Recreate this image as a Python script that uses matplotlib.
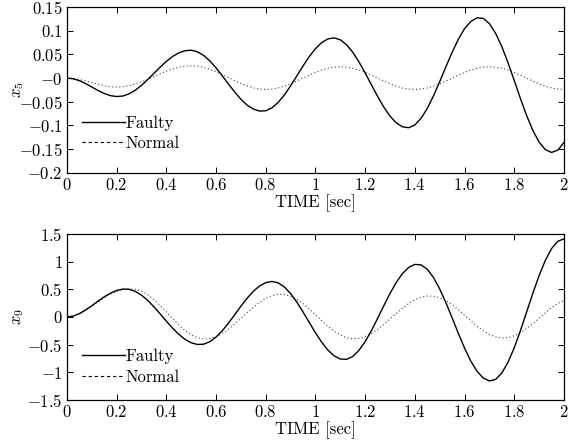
import matplotlib
matplotlib.use("Agg")
import matplotlib.pyplot as plt
import numpy as np
from matplotlib.lines import Line2D
from matplotlib.ticker import FuncFormatter

plt.rcParams['font.family'] = 'serif'
plt.rcParams['font.serif'] = ['cmr10']
plt.rcParams['mathtext.fontset'] = 'cm'
plt.rcParams['axes.unicode_minus'] = False

# time axis, 0.025 s steps (81 samples)
t = np.arange(81) * 0.025

# x5 state
x5_faulty = [0.0, -0.0014, -0.0054, -0.0115, -0.0188, -0.0261, -0.0325, -0.037, -0.0389, -0.0379,
             -0.0333, -0.0256, -0.0153, -0.0031, 0.010, 0.0231, 0.0353, 0.0456, 0.0533, 0.0579,
             0.0589, 0.0556, 0.0479, 0.0363, 0.0216, 0.0049, -0.0125, -0.0294, -0.0446, -0.057,
             -0.0654, -0.0696, -0.069, -0.0627, -0.0512, -0.0355, -0.0163, 0.0045, 0.0256, 0.0453,
             0.0621, 0.075, 0.0828, 0.085, 0.0809, 0.0705, 0.0547, 0.0342, 0.0109, -0.014,
             -0.0386, -0.0612, -0.0803, -0.0945, -0.1029, -0.1048, -0.0989, -0.0849, -0.0639, -0.0374,
             -0.0073, 0.0241, 0.0546, 0.082, 0.1045, 0.1197, 0.1273, 0.1261, 0.115, 0.0945,
             0.0664, 0.0321, -0.0053, -0.0435, -0.0795, -0.1108, -0.1353, -0.151, -0.157, -0.1521,
             -0.136]
x5_normal = [0.0, -0.0007, -0.0028, -0.0059, -0.0095, -0.0131, -0.0162, -0.0183, -0.019,
             -0.0182, -0.016, -0.0124, -0.0078, -0.0023, 0.0035, 0.0093, 0.0148, 0.0194, 0.023, 0.0252, 0.026,
             0.0252, 0.0227, 0.0187, 0.0135, 0.0075, 0.001, -0.0055, -0.0115, -0.0167, -0.0207, -0.0232, -0.024,
             -0.0232, -0.0208, -0.017, -0.012, -0.0062, 0.0, 0.0062, 0.012, 0.017, 0.0208, 0.0232, 0.024,
             0.0232, 0.0208, 0.017, 0.012, 0.0062, 0.0, -0.0062, -0.012, -0.017, -0.0208, -0.0232, -0.024,
             -0.0232, -0.0208, -0.017, -0.012, -0.0062, 0.0, 0.0062, 0.012, 0.017, 0.0208, 0.0232, 0.024,
             0.0232, 0.0208, 0.017, 0.012, 0.0062, 0.0, -0.0062, -0.012, -0.017, -0.0208, -0.0232, -0.024]

# x9 state
x9_faulty = [0.0, 0.014, 0.058, 0.125, 0.2, 0.285, 0.362, 0.4282, 0.4777, 0.5027,
             0.4988, 0.4615, 0.393, 0.2979, 0.1826, 0.055, -0.0761, -0.2019, -0.3138, -0.404, -0.4667, -0.4973,
             -0.4925, -0.4473, -0.3643, -0.2499, -0.112, 0.0392, 0.1926, 0.3368, 0.4626, 0.5579, 0.6191,
             0.64,
             0.6145, 0.5398, 0.4213, 0.2671, 0.0895, -0.0993, -0.2861, -0.4561, -0.598, -0.7023, -0.7596,
             -0.766, -0.7138, -0.6042, -0.4456, -0.2493, -0.0276, 0.2018, 0.4234, 0.622, 0.7824, 0.893, 0.948,
             0.9395, 0.8587, 0.7101, 0.5044, 0.2554, -0.0178, -0.2976, -0.5637, -0.7972, -0.981, -1.1034, -1.1555,
             -1.128, -1.0125, -0.8166, -0.554, -0.2442, 0.0924, 0.4312, 0.7488, 1.0214, 1.2336, 1.3646, 1.41]
x9_normal = [0.0, 0.014, 0.057, 0.122, 0.195, 0.272, 0.345, 0.41, 0.46, 0.492, 0.504,
             0.4992, 0.4645, 0.4008, 0.3126, 0.2058, 0.0886, -0.0314, -0.1455, -0.2457, -0.3245, -0.377, -0.3994,
             -0.3914, -0.3573, -0.2992, -0.2215, -0.1278, -0.0263, 0.0777, 0.1766, 0.2644, 0.3352, 0.3839, 0.4078,
             0.4048, 0.374, 0.3173, 0.2389, 0.1439, 0.0396, -0.0671, -0.1686, -0.2578, -0.3279, -0.3745, -0.3944,
             -0.3868, -0.3542, -0.2986, -0.2242, -0.1346, -0.0374, 0.0621, 0.1567, 0.2407, 0.3084, 0.355, 0.3779,
             0.3751, 0.346, 0.2925, 0.2184, 0.1288, 0.0303, -0.0705, -0.1663, -0.2504, -0.3166, -0.3607, -0.3795,
             -0.3725, -0.3404, -0.285, -0.2107, -0.121, -0.0239, 0.0751, 0.1689, 0.2433, 0.2965]

xticks = np.arange(0, 2.01, 0.2)
fs = 12


def fmt(v, pos):
    s = '%g' % round(v, 4)
    return '$' + s + '$'


fig = plt.figure(figsize=(5.72, 4.42), dpi=100)
ax1 = fig.add_axes([0.117, 0.609, 0.869, 0.375])
ax2 = fig.add_axes([0.117, 0.095, 0.869, 0.376])

panels = [
    (ax1, x5_faulty, x5_normal, (-0.2, 0.15), np.arange(-0.2, 0.151, 0.05), '$x_5$', 0.2375),
    (ax2, x9_faulty, x9_normal, (-1.5, 1.5), np.arange(-1.5, 1.51, 0.5), '$x_9$', 0.20),
]

for ax, yf, yn, ylim, yticks, ylab, legy in panels:
    ax.plot(t, yf, color='k', lw=1.0)
    ax.plot(t, yn, color='k', lw=0.8, linestyle=(0, (1, 2.2)), alpha=0.75)
    ax.set_xlim(0, 2)
    ax.set_ylim(*ylim)
    ax.set_xticks(xticks)
    ax.set_yticks(yticks)
    ax.xaxis.set_major_formatter(FuncFormatter(fmt))
    ax.yaxis.set_major_formatter(FuncFormatter(fmt))
    ax.tick_params(direction='in', top=True, right=True, length=4, width=0.7,
                   labelsize=fs, pad=3)
    for sp in ax.spines.values():
        sp.set_linewidth(0.9)
    ax.set_xlabel('TIME [sec]', fontsize=fs, labelpad=1)
    ax.set_ylabel(ylab, fontsize=fs)
    ax.yaxis.set_label_coords(-0.082, 0.5)
    handles = [Line2D([], [], color='k', lw=1.0),
               Line2D([], [], color='k', lw=0.8, linestyle=(0, (3, 2.5)))]
    ax.legend(handles, ['Faulty', 'Normal'], loc='center left', bbox_to_anchor=(0.03, legy),
              frameon=False, fontsize=fs, handlelength=2.6, handletextpad=0.0,
              labelspacing=0.3, borderpad=0, borderaxespad=0)

fig.savefig('out.png', dpi=100)
